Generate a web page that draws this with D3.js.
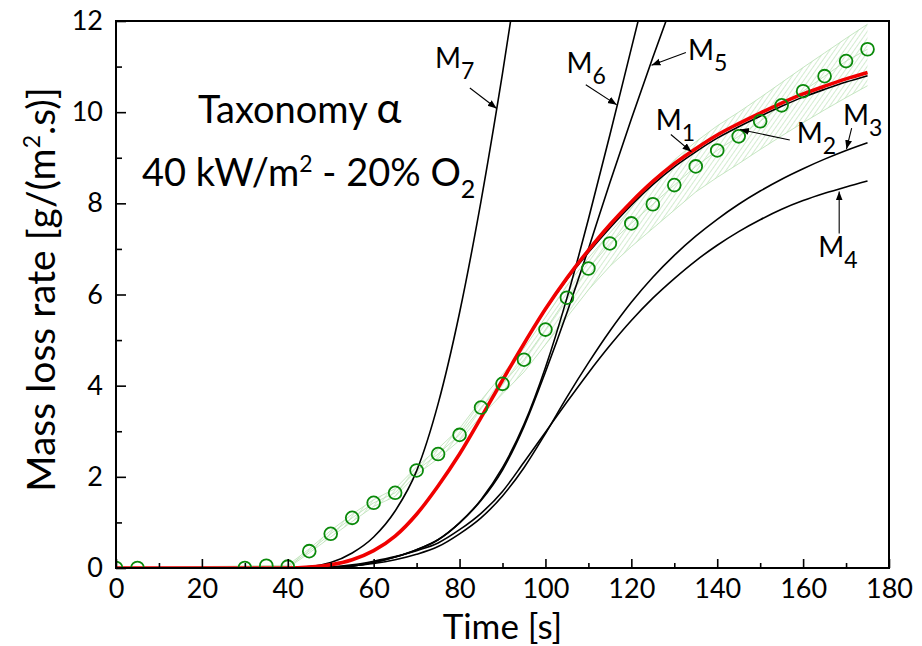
<!DOCTYPE html>
<html>
<head>
<meta charset="utf-8">
<script src="https://cdn.jsdelivr.net/npm/d3@7"></script>
<style>
  html, body { margin: 0; padding: 0; background: #fff; }
  svg { display: block; font-family: Lato, "Open Sans", sans-serif; }
</style>
</head>
<body>
<svg id="chart" width="922" height="646"></svg>
<script>
// ---- data -----------------------------------------------------------
// measured mass loss rate (mean of repeated tests), g/(m2.s)
const expTime  = [0, 5, 30, 35, 40, 45, 50, 55, 60, 65, 70, 75, 80, 85, 90, 95, 100, 105, 110, 115, 120, 125, 130, 135, 140, 145, 150, 155, 160, 165, 170, 175];
const expMean  = [0, 0, 0, 0.05, 0.03, 0.37, 0.75, 1.1, 1.43, 1.65, 2.14, 2.5, 2.92, 3.52, 4.04, 4.57, 5.23, 5.93, 6.57, 7.12, 7.56, 7.98, 8.4, 8.81, 9.16, 9.47, 9.8, 10.15, 10.46, 10.79, 11.12, 11.38];

// spread of the repeated tests
const bandTime  = [0, 40, 45, 50, 55, 60, 65, 70, 75, 80, 85, 90, 95, 100, 105, 110, 115, 120, 125, 130, 135, 140, 145, 150, 155, 160, 165, 170, 175];
const bandLower = [0, 0.0, 0.33, 0.68, 1.02, 1.35, 1.57, 2.05, 2.4, 2.8, 3.33, 3.82, 4.3, 4.9, 5.5, 6.1, 6.62, 7.05, 7.45, 7.85, 8.25, 8.57, 8.87, 9.18, 9.48, 9.77, 10.05, 10.32, 10.58];
const bandUpper = [0, 0.06, 0.42, 0.82, 1.18, 1.5, 1.74, 2.22, 2.62, 3.06, 3.68, 4.25, 4.82, 5.5, 6.2, 6.8, 7.35, 7.9, 8.45, 8.95, 9.35, 9.7, 10.0, 10.32, 10.65, 10.98, 11.3, 11.62, 11.93];

// model predictions M1..M7 (null = beyond the plotted range)
const modelTime = [0, 40, 45, 50, 55, 60, 65, 70, 75, 80, 85, 90, 95, 100, 105, 110, 115, 120, 125, 130, 135, 140, 145, 150, 155, 160, 165, 170, 175];
const M1 = [0, 0, 0.02, 0.07, 0.18, 0.38, 0.7, 1.18, 1.8, 2.5, 3.3, 4.12, 4.92, 5.68, 6.36, 6.97, 7.53, 8.03, 8.48, 8.87, 9.2, 9.5, 9.75, 9.98, 10.2, 10.4, 10.57, 10.73, 10.87];
const M2 = [0, 0, 0.02, 0.07, 0.18, 0.38, 0.7, 1.18, 1.8, 2.5, 3.3, 4.12, 4.92, 5.67, 6.33, 6.92, 7.46, 7.96, 8.41, 8.8, 9.13, 9.43, 9.68, 9.91, 10.13, 10.33, 10.5, 10.66, 10.8];
const M3 = [0, 0, 0, 0.02, 0.05, 0.1, 0.18, 0.3, 0.47, 0.75, 1.1, 1.58, 2.2, 2.95, 3.75, 4.5, 5.2, 5.83, 6.38, 6.86, 7.28, 7.65, 7.98, 8.27, 8.53, 8.76, 8.97, 9.16, 9.33];
const M4 = [0, 0, 0, 0.02, 0.07, 0.15, 0.25, 0.38, 0.55, 0.84, 1.2, 1.68, 2.32, 2.98, 3.64, 4.28, 4.88, 5.43, 5.92, 6.35, 6.74, 7.08, 7.38, 7.64, 7.87, 8.06, 8.22, 8.36, 8.49];
const M5 = [0, 0, 0, 0.01, 0.04, 0.12, 0.24, 0.4, 0.62, 0.99, 1.48, 2.15, 3.1, 4.3, 5.6, 7.0, 8.45, 9.85, 11.2, 12.5, null, null, null, null, null, null, null, null, null];
const M6 = [0, 0, 0, 0.01, 0.04, 0.12, 0.24, 0.4, 0.62, 0.99, 1.5, 2.2, 3.15, 4.4, 5.92, 7.65, 9.5, 11.4, 13.3, null, null, null, null, null, null, null, null, null, null];
const M7 = [0, 0, 0.03, 0.12, 0.33, 0.68, 1.25, 2.13, 3.6, 5.6, 8.05, 10.85, 13.9, null, null, null, null, null, null, null, null, null, null, null, null, null, null, null, null];

// axis ticks
const xMajor = [0, 20, 40, 60, 80, 100, 120, 140, 160, 180];
const xMinor = [10, 30, 50, 70, 90, 110, 130, 150, 170];
const yMajor = [0, 2, 4, 6, 8, 10, 12];
const yMinor = [1, 3, 5, 7, 9, 11];

// curve labels: name, subscript, label anchor (t, rate), arrow from -> to (t, rate)
const curveLabels = [
  {name: "M", sub: "7", at: [74.3, 10.97], from: [82.4, 10.53], to: [88.65, 10.08]},
  {name: "M", sub: "6", at: [104.9, 10.87], from: [109.4, 10.6], to: [116.6, 10.16]},
  {name: "M", sub: "5", at: [133.2, 11.14], from: [132.7, 11.31], to: [124.7, 11.03]},
  {name: "M", sub: "1", at: [125.7, 9.61], from: [129.2, 9.51], to: [134.0, 9.13]},
  {name: "M", sub: "2", at: [158.5, 9.32], from: [156.9, 9.39], to: [145.3, 9.62]},
  {name: "M", sub: "3", at: [169.3, 9.72], from: [171.3, 9.65], to: [170.1, 9.19]},
  {name: "M", sub: "4", at: [163.5, 6.83], from: [168.4, 7.34], to: [168.4, 8.26]}
];

// ---- layout ---------------------------------------------------------
const svg = d3.select("#chart");
const plot = {left: 116, top: 21, right: 889, bottom: 568};

const x = d3.scaleLinear().domain([0, 180]).range([plot.left, plot.right]);
const y = d3.scaleLinear().domain([0, 12]).range([plot.bottom, plot.top]);

const defs = svg.append("defs");
defs.append("clipPath").attr("id", "plotClip")
  .append("rect")
  .attr("x", plot.left).attr("y", plot.top)
  .attr("width", plot.right - plot.left).attr("height", plot.bottom - plot.top);

// diagonal hatching for the test-spread band
const hatch = defs.append("pattern")
  .attr("id", "hatch")
  .attr("patternUnits", "userSpaceOnUse")
  .attr("width", 4).attr("height", 4)
  .attr("patternTransform", "rotate(35)");
hatch.append("line")
  .attr("x1", 0).attr("y1", 0).attr("x2", 0).attr("y2", 4)
  .attr("stroke", "#a9d9a3").attr("stroke-width", 1);

defs.append("marker")
  .attr("id", "arrow")
  .attr("markerUnits", "userSpaceOnUse")
  .attr("markerWidth", 10).attr("markerHeight", 8)
  .attr("refX", 9).attr("refY", 3.5)
  .attr("orient", "auto")
  .append("path")
  .attr("d", "M0,0 L9,3.5 L0,7 Z")
  .attr("fill", "#000");

const data = svg.append("g").attr("clip-path", "url(#plotClip)");

// band of repeated tests
const band = bandTime.map((t, i) => ({t, lo: bandLower[i], hi: bandUpper[i]}));
data.append("path")
  .datum(band)
  .attr("d", d3.area().x(d => x(d.t)).y0(d => y(d.lo)).y1(d => y(d.hi)))
  .attr("fill", "url(#hatch)")
  .attr("stroke", "none");

const straight = d3.line().x(d => x(d[0])).y(d => y(d[1]));
[bandLower, bandUpper].forEach(arr => {
  data.append("path")
    .datum(bandTime.map((t, i) => [t, arr[i]]))
    .attr("d", straight)
    .attr("fill", "none")
    .attr("stroke", "#b7dfb2")
    .attr("stroke-width", 0.8);
});
data.append("path")
  .datum(expTime.map((t, i) => [t, expMean[i]]))
  .attr("d", straight)
  .attr("fill", "none")
  .attr("stroke", "#b7dfb2")
  .attr("stroke-width", 0.8);

// model curves
const smooth = d3.line()
  .defined(d => d[1] !== null)
  .curve(d3.curveMonotoneX)
  .x(d => x(d[0])).y(d => y(d[1]));

[M7, M6, M5, M4, M3, M2].forEach(series => {
  data.append("path")
    .datum(modelTime.map((t, i) => [t, series[i]]))
    .attr("d", smooth)
    .attr("fill", "none")
    .attr("stroke", "#000")
    .attr("stroke-width", 1.6);
});

data.append("path")
  .datum(modelTime.map((t, i) => [t, M1[i]]))
  .attr("d", smooth)
  .attr("fill", "none")
  .attr("stroke", "#f00000")
  .attr("stroke-width", 3.6);

// measured points
data.selectAll("circle.exp")
  .data(expTime.map((t, i) => [t, expMean[i]]))
  .join("circle")
  .attr("class", "exp")
  .attr("cx", d => x(d[0]))
  .attr("cy", d => y(d[1]))
  .attr("r", 6.4)
  .attr("fill", "none")
  .attr("stroke", "#0a8a0a")
  .attr("stroke-width", 1.8);

// ---- axes -----------------------------------------------------------
function styleAxis(g) {
  g.select(".domain").remove();
  g.selectAll(".tick line").attr("stroke", "#000").attr("stroke-width", 1.6);
  g.selectAll("text").attr("fill", "#000").style("font-size", "27px").style("font-family", "Lato");
}

svg.append("g")
  .attr("transform", `translate(0,${plot.bottom})`)
  .call(d3.axisBottom(x).tickValues(xMajor).tickSize(-9).tickPadding(11).tickFormat(d3.format("d")))
  .call(styleAxis);
svg.append("g")
  .attr("transform", `translate(0,${plot.bottom})`)
  .call(d3.axisBottom(x).tickValues(xMinor).tickSize(-5).tickFormat(""))
  .call(styleAxis);

svg.append("g")
  .attr("transform", `translate(${plot.left},0)`)
  .call(d3.axisLeft(y).tickValues(yMajor).tickSize(-10).tickPadding(13).tickFormat(d3.format("d")))
  .call(styleAxis);
svg.append("g")
  .attr("transform", `translate(${plot.left},0)`)
  .call(d3.axisLeft(y).tickValues(yMinor).tickSize(-6).tickFormat(""))
  .call(styleAxis);

// frame
svg.append("rect")
  .attr("x", plot.left).attr("y", plot.top)
  .attr("width", plot.right - plot.left).attr("height", plot.bottom - plot.top)
  .attr("fill", "none").attr("stroke", "#000").attr("stroke-width", 2);

// axis titles
svg.append("text")
  .attr("x", (plot.left + plot.right) / 2)
  .attr("y", 639)
  .attr("text-anchor", "middle")
  .style("font-size", "35px")
  .text("Time [s]");

const yTitle = svg.append("text")
  .attr("transform", `translate(55,${(plot.top + plot.bottom) / 2 - 5}) rotate(-90)`)
  .attr("text-anchor", "middle")
  .style("font-size", "39px");
yTitle.append("tspan").text("Mass loss rate [g/(m");
yTitle.append("tspan").attr("dy", "-15").style("font-size", "23px").text("2");
yTitle.append("tspan").attr("dy", "15").text(".s)]");

// ---- annotations ----------------------------------------------------
const note1 = svg.append("text")
  .attr("x", x(19.1)).attr("y", y(9.76))
  .style("font-size", "38px");
note1.append("tspan").text("Taxonomy ");
note1.append("tspan").style("font-size", "42px").text("α");

const note2 = svg.append("text")
  .attr("x", x(6.05)).attr("y", y(8.38))
  .style("font-size", "38px");
note2.append("tspan").text("40 kW/m");
note2.append("tspan").attr("dy", "-14").style("font-size", "23px").text("2");
note2.append("tspan").attr("dy", "14").text(" - 20% O");
note2.append("tspan").attr("dy", "12").style("font-size", "25px").text("2");

const labels = svg.append("g");
curveLabels.forEach(l => {
  labels.append("line")
    .attr("x1", x(l.from[0])).attr("y1", y(l.from[1]))
    .attr("x2", x(l.to[0])).attr("y2", y(l.to[1]))
    .attr("stroke", "#000").attr("stroke-width", 1.1)
    .attr("marker-end", "url(#arrow)");
  const t = labels.append("text")
    .attr("x", x(l.at[0])).attr("y", y(l.at[1]))
    .style("font-size", "28px");
  t.append("tspan").text(l.name);
  t.append("tspan").attr("dy", "11").style("font-size", "23px").text(l.sub);
});
</script>
</body>
</html>
